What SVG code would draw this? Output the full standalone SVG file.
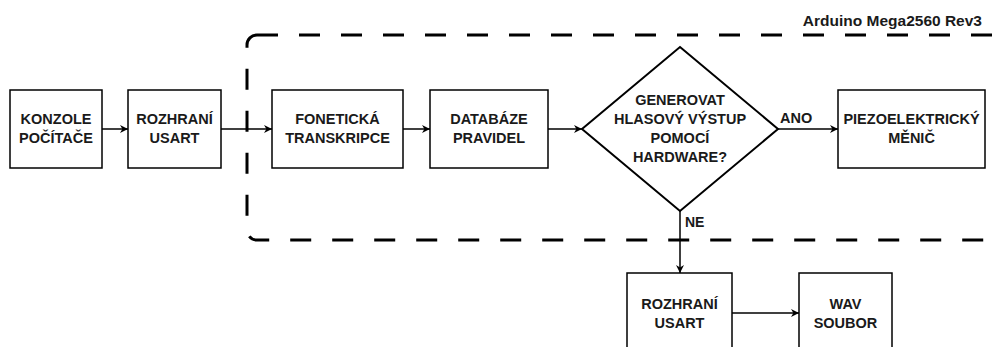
<svg xmlns="http://www.w3.org/2000/svg" width="999" height="347" viewBox="0 0 999 347">
<style>
.box{fill:#fff;stroke:#000;stroke-width:1.5}
.dia{fill:#fff;stroke:#000;stroke-width:2}
.t{font-family:"Liberation Sans",Arial,sans-serif;font-weight:bold;font-size:14.5px;fill:#1a1a1a;text-anchor:middle}
.lbl{font-family:"Liberation Sans",Arial,sans-serif;font-weight:bold;font-size:14px;fill:#1a1a1a}
.c{fill:none;stroke:#000;stroke-width:1.5}
</style>
<defs>
<marker id="ah" viewBox="0 0 10 10" refX="10" refY="5" markerWidth="8" markerHeight="8" markerUnits="userSpaceOnUse" orient="auto">
<path d="M0,0 L10,5 L0,10 L3,5 Z" fill="#000"/>
</marker>
</defs>
<rect width="999" height="347" fill="#fff"/>
<g id="container">
<rect x="247" y="35" width="800" height="205" rx="10" fill="none" stroke="#000" stroke-width="3" stroke-dasharray="21 21"/>
<text class="lbl" x="982" y="26" text-anchor="end" style="font-size:15.5px">Arduino Mega2560 Rev3</text>
</g>
<g id="connectors">
<line class="c" x1="102" y1="129" x2="128" y2="129" marker-end="url(#ah)"/>
<line class="c" x1="221" y1="129" x2="272" y2="129" marker-end="url(#ah)"/>
<line class="c" x1="403" y1="129" x2="430" y2="129" marker-end="url(#ah)"/>
<line class="c" x1="548" y1="129" x2="582" y2="129" marker-end="url(#ah)"/>
<line class="c" x1="778" y1="129" x2="838" y2="129" marker-end="url(#ah)"/>
<line class="c" x1="680" y1="210" x2="680" y2="273" marker-end="url(#ah)"/>
<line class="c" x1="732" y1="313" x2="799" y2="313" marker-end="url(#ah)"/>
<text class="lbl" x="780" y="123" style="font-size:14.5px">ANO</text>
<text class="lbl" x="685" y="227">NE</text>
</g>
<g id="konzole">
<rect class="box" x="10" y="90" width="92" height="78"/>
<text class="t" x="56" y="124">KONZOLE</text>
<text class="t" x="56" y="143">POČÍTAČE</text>
</g>
<g id="usart1">
<rect class="box" x="128" y="90" width="93" height="78"/>
<text class="t" x="174.5" y="124">ROZHRANÍ</text>
<text class="t" x="174.5" y="143">USART</text>
</g>
<g id="fonet">
<rect class="box" x="272" y="90" width="131" height="78"/>
<text class="t" x="337.5" y="124">FONETICKÁ</text>
<text class="t" x="337.5" y="143">TRANSKRIPCE</text>
</g>
<g id="databaze">
<rect class="box" x="430" y="90" width="118" height="78"/>
<text class="t" x="489" y="124">DATABÁZE</text>
<text class="t" x="489" y="143">PRAVIDEL</text>
</g>
<g id="decision">
<polygon class="dia" points="680,47 778,129 680,211 582,129"/>
<text class="t" x="680" y="105">GENEROVAT</text>
<text class="t" x="680" y="124">HLASOVÝ VÝSTUP</text>
<text class="t" x="680" y="143">POMOCÍ</text>
<text class="t" x="680" y="162">HARDWARE?</text>
</g>
<g id="piezo">
<rect class="box" x="838" y="90" width="147" height="78"/>
<text class="t" x="911.5" y="124">PIEZOELEKTRICKÝ</text>
<text class="t" x="911.5" y="143">MĚNIČ</text>
</g>
<g id="usart2">
<rect class="box" x="627" y="273" width="105" height="80"/>
<text class="t" x="679.5" y="309">ROZHRANÍ</text>
<text class="t" x="679.5" y="328">USART</text>
</g>
<g id="wav">
<rect class="box" x="799" y="273" width="93" height="80"/>
<text class="t" x="845.5" y="309">WAV</text>
<text class="t" x="845.5" y="328">SOUBOR</text>
</g>
</svg>
